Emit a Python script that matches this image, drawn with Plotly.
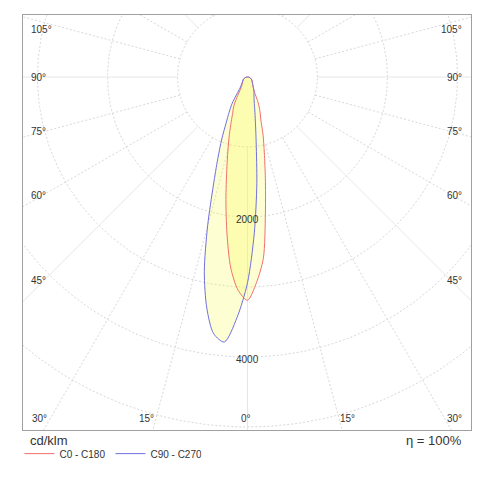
import numpy as np
import plotly.graph_objects as go

# luminous intensity in cd/klm
gamma = [0, 2.5, 5, 7.5, 10, 12.5, 15, 17.5, 20, 22.5, 25, 27.5, 30, 32.5, 35, 40, 45, 50, 60, 70, 80, 90]
c0 = [3190, 2940, 2600, 1960, 1470, 1110, 860, 630, 520, 400, 230, 185, 160, 145, 130, 110, 95, 85, 65, 45, 25, 0]
c180 = [3190, 3050, 2740, 2250, 1775, 1370, 1080, 860, 680, 550, 470, 330, 200, 160, 140, 115, 95, 85, 65, 45, 25, 0]
c90 = [2940, 2230, 1530, 950, 650, 480, 370, 310, 270, 240, 220, 190, 160, 145, 130, 110, 95, 85, 65, 45, 25, 0]
c270 = [2940, 3440, 3800, 3700, 3350, 2850, 2200, 1620, 1240, 960, 720, 570, 450, 260, 175, 130, 105, 90, 70, 45, 25, 0]

rings = [1000, 2000, 3000, 4000, 5000]
ring_labels = [2000, 4000]
spokes = list(range(0, 360, 15))
side_labels = ["105°", "90°", "75°", "60°", "45°"]
bottom_labels = ["30°", "15°", "0°", "15°", "30°"]

# page body has an 8px margin, so everything is laid out 8px up/left
OFF = 8
CX, CY, S = 247.5 - OFF, 77 - OFF, 0.07  # centre in figure pixels, pixels per cd/klm
BOX = (23, 471, 15, 430)  # screen pixels of the frame: left, right, top, bottom


def px(xp, yp):
    # screen pixels -> data units
    return (xp - OFF - CX) / S, (CY - (yp - OFF)) / S


def paper(xp, yp):
    return (xp - BOX[0]) / (BOX[1] - BOX[0]), (BOX[3] - yp) / (BOX[3] - BOX[2])


def lobe(right, left):
    g = np.radians(gamma)
    r_r = np.array(right, dtype=float)[::-1]
    r_l = np.array(left, dtype=float)[1:]
    x = np.concatenate([r_r * np.sin(g[::-1]), -r_l * np.sin(g[1:])])
    y = np.concatenate([-r_r * np.cos(g[::-1]), -r_l * np.cos(g[1:])])
    return x, y


fig = go.Figure()

# grid
t = np.linspace(0, 2 * np.pi, 361)
for r in rings:
    fig.add_trace(go.Scatter(x=r * np.cos(t), y=r * np.sin(t), mode="lines",
                             line=dict(color="#d8d8d8", width=1, dash="2px,2px"),
                             showlegend=False, hoverinfo="skip"))
for a in spokes:
    ar = np.radians(a)
    solid = a % 45 == 0
    fig.add_trace(go.Scatter(x=[1000 * np.sin(ar), 8000 * np.sin(ar)],
                             y=[-1000 * np.cos(ar), -8000 * np.cos(ar)], mode="lines",
                             line=dict(color="#e6e6e6" if solid else "#d8d8d8", width=1,
                                       dash="solid" if solid else "2px,2px"),
                             showlegend=False, hoverinfo="skip"))

curves = [("C0 - C180", lobe(c0, c180), "#f07070"),
          ("C90 - C270", lobe(c90, c270), "#7070e0")]

# translucent fills first, outlines on top
for name, (x, y), col in curves:
    fig.add_trace(go.Scatter(x=x, y=y, mode="lines", fill="toself",
                             fillcolor="rgba(250,250,70,0.24)",
                             line=dict(width=0, shape="spline", smoothing=0.8),
                             showlegend=False, hoverinfo="skip"))
for name, (x, y), col in curves:
    fig.add_trace(go.Scatter(x=x, y=y, mode="lines", name=name,
                             line=dict(color=col, width=1, shape="spline", smoothing=0.8),
                             hoverinfo="skip"))

font = dict(family="Liberation Sans, Arial, sans-serif", size=10, color="#333333")
ann = []
for r in ring_labels:
    ann.append(dict(x=0, y=-r, text=str(r), showarrow=False, font=font, yshift=-2))

side_y = [29, 77, 131, 195, 280]
for lab, yp in zip(side_labels, side_y):
    x0, y0 = px(29, yp)
    ann.append(dict(x=x0, y=y0, text=lab, showarrow=False, font=font, xanchor="left"))
    x1, y1 = px(464, yp)
    ann.append(dict(x=x1, y=y1, text=lab, showarrow=False, font=font, xanchor="right"))

bottom_x = [39, 146, 246, 347, 454]
for lab, xp in zip(bottom_labels, bottom_x):
    x0, y0 = px(xp, 418)
    ann.append(dict(x=x0, y=y0, text=lab, showarrow=False, font=font))

big = dict(family="Liberation Sans, Arial, sans-serif", size=13, color="#333333")
x0, y0 = paper(28, 441)
ann.append(dict(x=x0, y=y0, xref="paper", yref="paper", text="cd/klm", showarrow=False,
                font=big, xanchor="left", yanchor="middle"))
x0, y0 = paper(464, 441)
ann.append(dict(x=x0, y=y0, xref="paper", yref="paper", text="η = 100%", showarrow=False,
                font=big, xanchor="right", yanchor="middle"))

xlo, _ = px(BOX[0], 0)
xhi, _ = px(BOX[1], 0)
_, yhi = px(0, BOX[2])
_, ylo = px(0, BOX[3])

axis = dict(showgrid=False, zeroline=False, showticklabels=False, ticks="",
            showline=True, mirror=True, linecolor="#a0a0a0", linewidth=1, fixedrange=True)

fig.update_layout(
    width=484, height=484,
    margin=dict(l=BOX[0] - OFF, r=484 - (BOX[1] - OFF), t=BOX[2] - OFF, b=484 - (BOX[3] - OFF)),
    plot_bgcolor="white", paper_bgcolor="white",
    xaxis=dict(range=[xlo, xhi], **axis),
    yaxis=dict(range=[ylo, yhi], **axis),
    annotations=ann,
    showlegend=True,
    legend=dict(orientation="h", x=-0.008, y=-0.022, xanchor="left", yanchor="top",
                font=dict(family="Liberation Sans, Arial, sans-serif", size=10, color="#333333"),
                entrywidth=46, entrywidthmode="pixels", bgcolor="rgba(0,0,0,0)"),
)

fig.write_html("out.html")
